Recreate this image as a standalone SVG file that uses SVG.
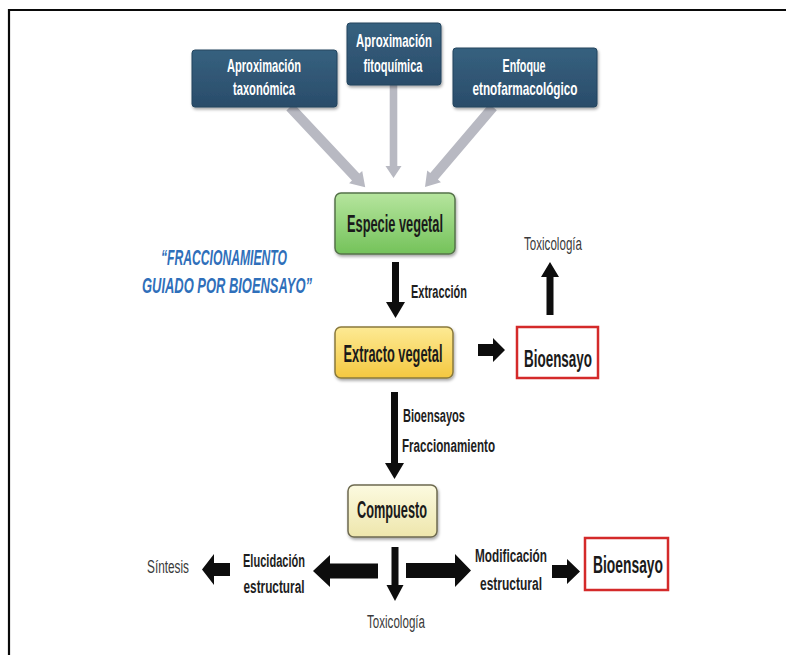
<svg xmlns="http://www.w3.org/2000/svg" width="786" height="655" viewBox="0 0 786 655">
<defs>
<style>
text{font-family:"Liberation Sans Narrow","Liberation Sans",Arial,sans-serif}
.bx{font-weight:bold;font-size:23px;fill:#1a1a1a;text-anchor:middle}
.tp{font-weight:bold;font-size:19px;fill:#ffffff;text-anchor:middle}
.lb{font-weight:bold;font-size:18px;fill:#1e1e1e}
.rg{font-size:18px;fill:#3a3a3a}
.bl{fill:#0d0d0d}
.gr{fill:#b8b9c2}
.blue{fill:url(#gBlue);stroke:#24445f;stroke-width:1}
.red{fill:#ffffff;stroke:#d42a2a;stroke-width:2.5}
</style>
<linearGradient id="gBlue" x1="0" y1="0" x2="0" y2="1"><stop offset="0" stop-color="#36617f"/><stop offset="1" stop-color="#2a4c6a"/></linearGradient>
<linearGradient id="gGreen" x1="0" y1="0" x2="0" y2="1"><stop offset="0" stop-color="#b6e59e"/><stop offset="1" stop-color="#74c25a"/></linearGradient>
<linearGradient id="gYellow" x1="0" y1="0" x2="0" y2="1"><stop offset="0" stop-color="#fdea94"/><stop offset="1" stop-color="#f4c840"/></linearGradient>
<linearGradient id="gCream" x1="0" y1="0" x2="0" y2="1"><stop offset="0" stop-color="#fcfae0"/><stop offset="1" stop-color="#eee6ac"/></linearGradient>
<filter id="sh" x="-10%" y="-10%" width="130%" height="140%"><feDropShadow dx="1" dy="2" stdDeviation="1.5" flood-color="#000" flood-opacity="0.35"/></filter>
</defs>
<rect width="786" height="655" fill="#ffffff"/>
<path d="M9,655 V10 H786" fill="none" stroke="#0a0a0a" stroke-width="2.2"/>

<g id="connectors">
<polygon class="gr" transform="translate(290,107) rotate(46.85)" points="0,-5 96,-5 96,-9 110,0 96,9 96,5 0,5"/>
<polygon class="gr" transform="translate(393.5,85) rotate(90)" points="0,-3.8 81,-3.8 81,-8 93,0 81,8 81,3.8 0,3.8"/>
<polygon class="gr" transform="translate(493,107) rotate(130.36)" points="0,-5 91,-5 91,-9 105,0 91,9 91,5 0,5"/>
<polygon class="bl" points="392,262 399,262 399,302 405,302 395.5,318 386,302 392,302"/>
<polygon class="bl" points="391,392 398,392 398,463 404,463 394.5,479 385,463 391,463"/>
<polygon class="bl" points="478,344 493,344 493,338 505,350 493,362 493,356 478,356"/>
<polygon class="bl" points="546.5,315 553.5,315 553.5,277 559,277 550,262 541,277 546.5,277"/>
<polygon class="bl" points="391.5,547 398.5,547 398.5,585 403.5,585 395,601 386.5,585 391.5,585"/>
<polygon class="bl" points="378,563.5 330,563.5 330,555 313,571 330,587 330,578.5 378,578.5"/>
<polygon class="bl" points="406,563 455,563 455,554 471,570.5 455,587 455,578 406,578"/>
<polygon class="bl" points="230,563 214,563 214,554 202,569.5 214,585 214,576 230,576"/>
<polygon class="bl" points="552,565 567,565 567,559 580,571.5 567,584 567,578 552,578"/>
<text class="lb" x="411" y="298" textLength="56" lengthAdjust="spacingAndGlyphs">Extracción</text>
<text class="lb" x="403" y="422" textLength="62" lengthAdjust="spacingAndGlyphs">Bioensayos</text>
<text class="lb" x="402" y="452" textLength="93" lengthAdjust="spacingAndGlyphs">Fraccionamiento</text>
</g>

<g id="node-taxonomica">
<rect class="blue" x="192" y="50" width="145" height="57" rx="3" filter="url(#sh)"/>
<text class="tp" x="264" y="72" textLength="74" lengthAdjust="spacingAndGlyphs">Aproximación</text>
<text class="tp" x="264" y="95" textLength="62" lengthAdjust="spacingAndGlyphs">taxonómica</text>
</g>
<g id="node-fitoquimica">
<rect class="blue" x="347" y="23" width="94" height="62" rx="3" filter="url(#sh)"/>
<text class="tp" x="394" y="47" textLength="76" lengthAdjust="spacingAndGlyphs">Aproximación</text>
<text class="tp" x="393" y="72" textLength="59" lengthAdjust="spacingAndGlyphs">fitoquímica</text>
</g>
<g id="node-etno">
<rect class="blue" x="453" y="48" width="144" height="59" rx="3" filter="url(#sh)"/>
<text class="tp" x="524" y="72" textLength="43" lengthAdjust="spacingAndGlyphs">Enfoque</text>
<text class="tp" x="525" y="95" textLength="105" lengthAdjust="spacingAndGlyphs">etnofarmacológico</text>
</g>

<g id="title">
<text x="224" y="265" font-size="22" font-weight="bold" font-style="italic" fill="#2f6fba" text-anchor="middle" textLength="126" lengthAdjust="spacingAndGlyphs">“FRACCIONAMIENTO</text>
<text x="227" y="293" font-size="22" font-weight="bold" font-style="italic" fill="#2f6fba" text-anchor="middle" textLength="170" lengthAdjust="spacingAndGlyphs">GUIADO POR BIOENSAYO”</text>
</g>

<g id="node-especie">
<rect x="335" y="193" width="120" height="61" rx="6" fill="url(#gGreen)" stroke="#55734a" stroke-width="1.5" filter="url(#sh)"/>
<text class="bx" x="395" y="232" textLength="96" lengthAdjust="spacingAndGlyphs">Especie vegetal</text>
</g>
<g id="node-extracto">
<rect x="335" y="327" width="118" height="51" rx="6" fill="url(#gYellow)" stroke="#8a7a3c" stroke-width="1.5" filter="url(#sh)"/>
<text class="bx" x="393" y="362" textLength="99" lengthAdjust="spacingAndGlyphs">Extracto vegetal</text>
</g>
<g id="node-bioensayo1">
<rect class="red" x="517" y="327" width="81" height="51"/>
<text class="bx" x="558" y="367" textLength="68" lengthAdjust="spacingAndGlyphs">Bioensayo</text>
</g>
<g id="node-toxicologia1">
<text class="rg" x="553" y="250" text-anchor="middle" textLength="58" lengthAdjust="spacingAndGlyphs">Toxicología</text>
</g>
<g id="node-compuesto">
<rect x="348" y="485" width="89" height="52" rx="6" fill="url(#gCream)" stroke="#6e6a50" stroke-width="1.5" filter="url(#sh)"/>
<text class="bx" x="392" y="518" textLength="70" lengthAdjust="spacingAndGlyphs">Compuesto</text>
</g>
<g id="node-elucidacion">
<text class="lb" x="274" y="567" text-anchor="middle" textLength="62" lengthAdjust="spacingAndGlyphs">Elucidación</text>
<text class="lb" x="274" y="593" text-anchor="middle" textLength="61" lengthAdjust="spacingAndGlyphs">estructural</text>
</g>
<g id="node-sintesis">
<text class="rg" x="168" y="573" text-anchor="middle" textLength="42" lengthAdjust="spacingAndGlyphs" fill="#444">Síntesis</text>
</g>
<g id="node-toxicologia2">
<text class="rg" x="396" y="628" text-anchor="middle" textLength="58" lengthAdjust="spacingAndGlyphs">Toxicología</text>
</g>
<g id="node-modificacion">
<text class="lb" x="511" y="562" text-anchor="middle" textLength="72" lengthAdjust="spacingAndGlyphs">Modificación</text>
<text class="lb" x="511" y="590" text-anchor="middle" textLength="62" lengthAdjust="spacingAndGlyphs">estructural</text>
</g>
<g id="node-bioensayo2">
<rect class="red" x="585" y="538" width="83" height="52"/>
<text class="bx" x="628" y="573" textLength="70" lengthAdjust="spacingAndGlyphs">Bioensayo</text>
</g>
</svg>
